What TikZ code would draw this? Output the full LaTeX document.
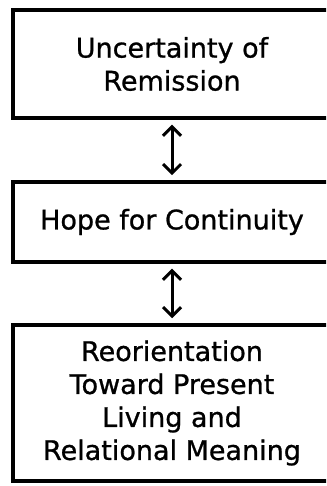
\documentclass[tikz,border=0pt]{standalone}
\usepackage{fontspec}
\setmainfont{DejaVu Sans}[BoldFont=DejaVu Sans, BoldFeatures={FakeBold=0.9}]
\usetikzlibrary{positioning}
\usetikzlibrary{arrows.meta}

\tikzset{
  stagebox/.style={draw, line width=3.5pt, minimum width=318pt, align=center,
    font=\fontsize{27}{33}\selectfont\bfseries, inner sep=0pt},
  linkarrow/.style={line width=3pt,
    {Straight Barb[length=9pt,width=18pt]}-{Straight Barb[length=9pt,width=18pt]},
    shorten >=5pt, shorten <=5pt}
}

\begin{document}
\begin{tikzpicture}
   \useasboundingbox (0,0) rectangle (326pt,486pt);
   \clip (0,0) rectangle (326pt,486pt);

   % top stage
   \node[stagebox, minimum height=108pt] (uncert) at (172pt,422pt)
      {Uncertainty of\\Remission};

   % middle stage
   \node[stagebox, minimum height=80pt, below=60.5pt of uncert] (hope)
      {Hope for Continuity};

   % bottom stage
   \node[stagebox, minimum height=156pt, below=59.5pt of hope] (reorient)
      {Reorientation\\Toward Present\\Living and\\Relational Meaning};

   % links between stages
   \draw[linkarrow] (uncert) -- (hope);
   \draw[linkarrow] (hope) -- (reorient);
\end{tikzpicture}
\end{document}
